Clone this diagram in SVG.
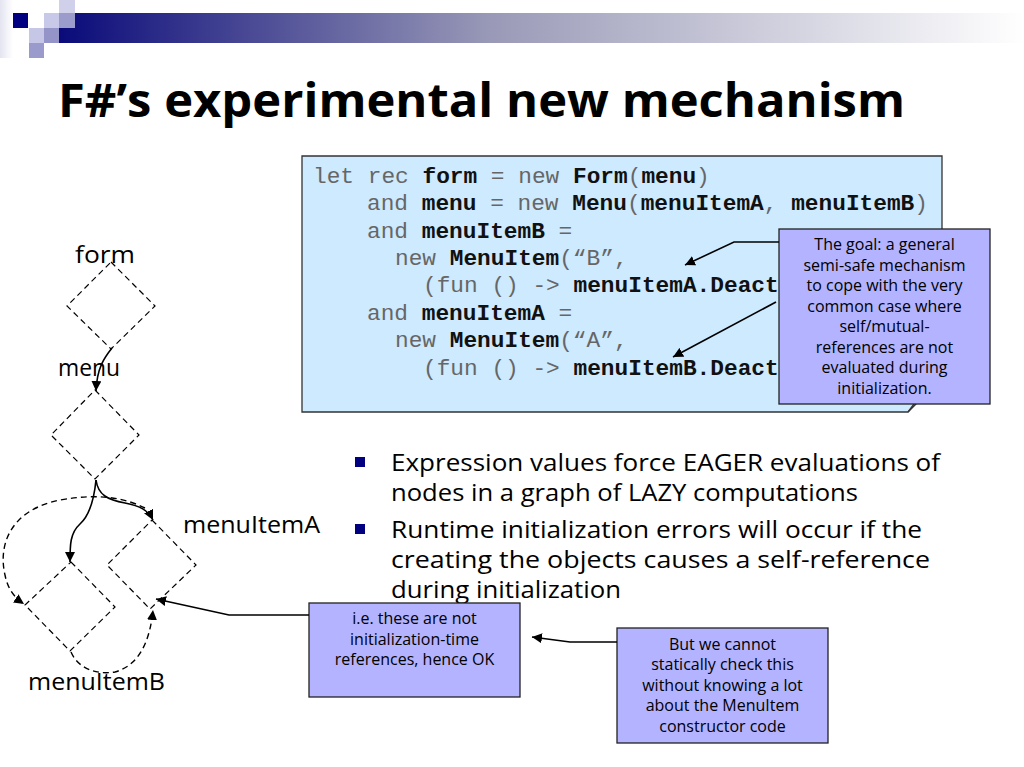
<svg xmlns="http://www.w3.org/2000/svg" width="1024" height="767" viewBox="0 0 1024 767">
<defs>
<linearGradient id="bar" x1="0" y1="0" x2="1" y2="0">
<stop offset="0" stop-color="#0a0a7a"/>
<stop offset="0.45" stop-color="#9a9ab8"/>
<stop offset="1" stop-color="#ffffff"/>
</linearGradient>
<linearGradient id="lband" x1="0" y1="0" x2="1" y2="0">
<stop offset="0" stop-color="#e4e4f2"/>
<stop offset="1" stop-color="#ffffff"/>
</linearGradient>
<marker id="ah" viewBox="0 0 10 10" refX="10" refY="5" markerWidth="10" markerHeight="10" markerUnits="userSpaceOnUse" orient="auto">
<path d="M0,0 L10,5 L0,10 z" fill="#000"/>
</marker>
<style>
.dia{fill:none;stroke:#000;stroke-width:1.2;stroke-dasharray:6 4}
.lbl{font-family:"Open Sans","Liberation Sans",sans-serif;font-size:24px;fill:#000}
.code{font-family:"Liberation Mono","Courier New",monospace;font-size:22.8px;fill:#666;white-space:pre}
.code .b{font-weight:bold;fill:#111}
.note{fill:#b3b3ff;stroke:#222;stroke-width:1.3}
.nt{font-family:"Open Sans","Liberation Sans",sans-serif;font-size:16px;fill:#000;text-anchor:middle}
.bt{font-family:"Open Sans","Liberation Sans",sans-serif;font-size:23px;fill:#000}
.sol{fill:none;stroke:#000;stroke-width:1.6}
.dsh{fill:none;stroke:#000;stroke-width:1.4;stroke-dasharray:6 4}
</style>
</defs>
<rect width="1024" height="767" fill="#fff"/>
<g id="header">
<rect x="0" y="0" width="13" height="58" fill="url(#lband)"/>
<rect x="59" y="13" width="965" height="30" fill="url(#bar)"/>
<rect x="13" y="13" width="15" height="15" fill="#000080"/>
<rect x="44" y="13" width="15" height="15" fill="#c8c8e8"/>
<rect x="59" y="13" width="16" height="15" fill="#9c9ccc"/>
<rect x="59" y="0" width="16" height="13" fill="#d0d0ea"/>
<rect x="29" y="28" width="15" height="15" fill="#c6c6e6"/>
<rect x="44" y="28" width="15" height="15" fill="#9494c8"/>
<rect x="29" y="43" width="15" height="15" fill="#9a9acc"/>
</g>
<text id="title" x="58" y="117" font-family="Open Sans, Liberation Sans, sans-serif" font-size="46" font-weight="bold" textLength="847" lengthAdjust="spacingAndGlyphs">F#’s experimental new mechanism</text>
<g id="codebox">
<path d="M302,156 H942 V378 L908,412 H302 Z" fill="#cdeaff" stroke="#333" stroke-width="1.3"/>
<path d="M942,378 L914,404 L908,412" fill="none" stroke="#333" stroke-width="1.3"/>
<text class="code" x="313" y="183">let rec <tspan class="b">form</tspan> = new <tspan class="b">Form</tspan>(<tspan class="b">menu</tspan>)</text>
<text class="code" x="367" y="210">and <tspan class="b">menu</tspan> = new <tspan class="b">Menu</tspan>(<tspan class="b">menuItemA</tspan>, <tspan class="b">menuItemB</tspan>)</text>
<text class="code" x="367" y="238">and <tspan class="b">menuItemB</tspan> =</text>
<text class="code" x="395" y="265">new <tspan class="b">MenuItem</tspan>(“B”,</text>
<text class="code" x="423" y="292">(fun () -&gt; <tspan class="b">menuItemA.Deact</tspan></text>
<text class="code" x="367" y="320">and <tspan class="b">menuItemA</tspan> =</text>
<text class="code" x="395" y="347">new <tspan class="b">MenuItem</tspan>(“A”,</text>
<text class="code" x="423" y="375">(fun () -&gt; <tspan class="b">menuItemB.Deact</tspan></text>
</g>
<g id="form">
<text class="lbl" x="75" y="263" textLength="60" lengthAdjust="spacingAndGlyphs">form</text>
<path class="dia" d="M111,262 L155,306 L111,349 L67,306 Z"/>
</g>
<g id="menu">
<text class="lbl" x="58" y="376" textLength="62" lengthAdjust="spacingAndGlyphs">menu</text>
<path class="dia" d="M95,390 L139,435 L95,479 L51,435 Z"/>
</g>
<g id="menuItemA">
<path class="dia" d="M152,520 L196,565 L150,609 L107,565 Z"/>
<text class="lbl" x="183" y="533" textLength="137" lengthAdjust="spacingAndGlyphs">menuItemA</text>
</g>
<g id="menuItemB">
<path class="dia" d="M71,562 L115,607 L70,651 L25,605 Z"/>
<text class="lbl" x="28" y="690" textLength="137" lengthAdjust="spacingAndGlyphs">menuItemB</text>
</g>
<g id="goal">
<rect class="note" x="779" y="229" width="211" height="175"/>
<text class="nt" x="884.5" y="250">The goal: a general</text>
<text class="nt" x="884.5" y="271">semi-safe mechanism</text>
<text class="nt" x="884.5" y="291">to cope with the very</text>
<text class="nt" x="884.5" y="312">common case where</text>
<text class="nt" x="884.5" y="332">self/mutual-</text>
<text class="nt" x="884.5" y="353">references are not</text>
<text class="nt" x="884.5" y="373">evaluated during</text>
<text class="nt" x="884.5" y="394">initialization.</text>
</g>
<g id="bullets">
<rect x="355" y="457" width="10" height="10" fill="#000080"/>
<rect x="355" y="524" width="10" height="10" fill="#000080"/>
<text class="bt" x="391" y="471" textLength="549" lengthAdjust="spacingAndGlyphs">Expression values force EAGER evaluations of</text>
<text class="bt" x="391" y="501" textLength="467" lengthAdjust="spacingAndGlyphs">nodes in a graph of LAZY computations</text>
<text class="bt" x="391" y="538" textLength="531" lengthAdjust="spacingAndGlyphs">Runtime initialization errors will occur if the</text>
<text class="bt" x="391" y="568" textLength="539" lengthAdjust="spacingAndGlyphs">creating the objects causes a self-reference</text>
<text class="bt" x="391" y="598" textLength="230" lengthAdjust="spacingAndGlyphs">during initialization</text>
</g>
<g id="ie">
<rect class="note" x="309" y="603" width="211" height="94"/>
<text class="nt" x="414.5" y="624">i.e. these are not</text>
<text class="nt" x="414.5" y="645">initialization-time</text>
<text class="nt" x="414.5" y="665">references, hence OK</text>
</g>
<g id="cannot">
<rect class="note" x="617" y="628" width="211" height="115"/>
<text class="nt" x="722.5" y="650">But we cannot</text>
<text class="nt" x="722.5" y="670">statically check this</text>
<text class="nt" x="722.5" y="691">without knowing a lot</text>
<text class="nt" x="722.5" y="711">about the MenuItem</text>
<text class="nt" x="722.5" y="732">constructor code</text>
</g>
<g id="connectors">
<path class="sol" d="M112,348 C104,358 97,368 96,391" marker-end="url(#ah)"/>
<path class="sol" d="M96,480 C98,495 108,500 125,503 C140,506 148,510 153,520" marker-end="url(#ah)"/>
<path class="sol" d="M96,480 C94,500 90,515 80,524 C70,533 70,545 70,562" marker-end="url(#ah)"/>
<path class="dsh" d="M145,508 C125,498 100,493 60,500 C10,510 -2,545 5,575 C8,590 15,598 24,604" marker-end="url(#ah)"/>
<path class="dsh" d="M71,652 C78,668 95,675 115,672 C140,665 150,640 153,610" marker-end="url(#ah)"/>
<path class="sol" d="M309,615 H229 L156,599" marker-end="url(#ah)"/>
<path class="sol" d="M617,642 H570 L532,637" marker-end="url(#ah)"/>
<path class="sol" d="M779,242 H734 L685,265" marker-end="url(#ah)"/>
<path class="sol" d="M776,302 L673,357" marker-end="url(#ah)"/>
</g>
</svg>
